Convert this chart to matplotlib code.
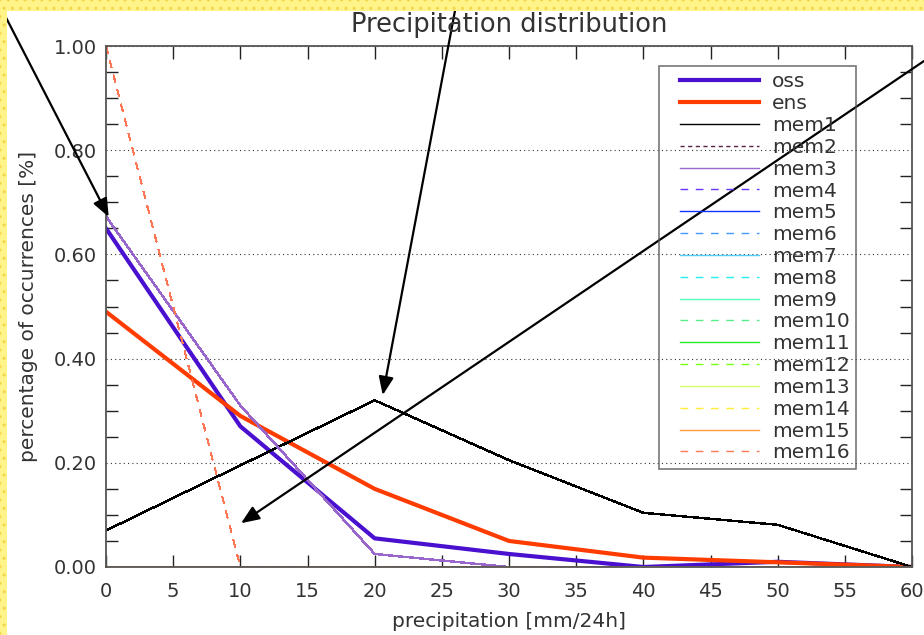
import numpy as np
import matplotlib

matplotlib.use("Agg")
import matplotlib.pyplot as plt
from matplotlib.lines import Line2D
from matplotlib.legend_handler import HandlerLine2D
from matplotlib.patches import Rectangle


# precipitation classes [mm/24h]
PRECIP = [0, 10, 20, 30, 40, 50, 60]

OSS = [0.65, 0.27, 0.055, 0.025, 0.0, 0.01, 0.0]
ENS = [0.49, 0.29, 0.15, 0.05, 0.018, 0.009, 0.0]

# ensemble members (members not listed stay at zero)
MEM1 = [0.07, 0.195, 0.32, 0.205, 0.104, 0.081, 0.0]
MEM3 = [0.673, 0.31, 0.025, 0.0, 0.0, 0.0, 0.0]
MEM16 = [1.0, 0.0, 0.0, 0.0, 0.0, 0.0, 0.0]
ZERO = [0.0] * 7

MEMBER_NAMES = [f"mem{i}" for i in range(1, 17)]
MEMBER_VALUES = [MEM1, ZERO, MEM3] + [ZERO] * 12 + [MEM16]
MEMBER_COLORS = [
    "black", "#552244", "#9966CC", "#6633FF", "#1133FF", "#4499FF",
    "#55CCFF", "#22EEEE", "#55FFBB", "#55EE88", "#22EE22", "#77FF11",
    "#D4FF66", "#FFEE33", "#FF9933", "#FF7755",
]

X_TICKS = list(range(0, 61, 5))
Y_TICKS = [0.0, 0.2, 0.4, 0.6, 0.8, 1.0]

TEXT = "#333333"
SPINE = "#555555"

plt.rcParams["font.family"] = ["DejaVu Sans"]
plt.rcParams["lines.scale_dashes"] = False

W, H = 924, 635
fig = plt.figure(figsize=(W / 100, H / 100), dpi=100)

# yellow highlight strips (top and left) of the screenshot
for (x0, y0, w, h) in [(0, H - 11, W, 11), (0, 0, 7, H)]:
    fig.patches.append(Rectangle((x0 / W, y0 / H), w / W, h / H, transform=fig.transFigure,
                                 facecolor="#FFF38A", edgecolor="#F0D84A", hatch="..",
                                 linewidth=0, zorder=0))

ax = fig.add_axes([106 / W, (H - 567) / H, 806 / W, 521 / H])
ax.set_facecolor("none")

ax.plot(PRECIP, OSS, color="#4A10D0", linewidth=3.0, label="oss")
ax.plot(PRECIP, ENS, color="#FF3C00", linewidth=3.0, label="ens")
for i, (name, vals, col) in enumerate(zip(MEMBER_NAMES, MEMBER_VALUES, MEMBER_COLORS)):
    if i == 1:
        dashes = (3.0, 2.5)
    elif i % 2 == 1:
        dashes = (5.5, 5.5)
    else:
        dashes = None
    line, = ax.plot(PRECIP, vals, color=col, linewidth=1.0, label=name, antialiased=False)
    if dashes:
        line.set_dashes(dashes)

ax.set_xlim(0, 60)
ax.set_ylim(0, 1)
ax.set_xticks(X_TICKS)
ax.set_xticklabels([str(t) for t in X_TICKS])
ax.set_yticks(Y_TICKS)
ax.set_yticklabels([f"{t:.2f}" for t in Y_TICKS])
ax.set_yticks(np.arange(0.05, 1.0, 0.05), minor=True)

ax.tick_params(axis="x", which="major", direction="in", length=9, width=1.0, color="#222222",
               top=True, bottom=True, labelsize=14, labelcolor=TEXT, pad=10.5)
ax.tick_params(axis="y", which="major", length=0, labelsize=14, labelcolor=TEXT, pad=6.5)
ax.tick_params(axis="y", which="minor", direction="in", length=8.6, width=1.0, color="#222222",
               left=True, right=True)

ax.grid(True, axis="y", which="major", color="#333333", linewidth=0.8, linestyle=(0, (0.8, 2.3)))

for sp in ax.spines.values():
    sp.set_color(SPINE)
    sp.set_linewidth(1.3)

ax.set_title("Precipitation distribution", fontsize=18.5, color=TEXT, pad=10)
ax.set_xlabel("precipitation [mm/24h]", fontsize=14.5, color=TEXT, labelpad=8)
ax.set_ylabel("percentage of occurrences [%]", fontsize=14.5, color=TEXT)
ax.yaxis.set_label_coords(-(106 - 38) / 806, 0.5)

leg = ax.legend(loc="upper left", bbox_to_anchor=(0.686, 0.962), borderaxespad=0,
                fontsize=14.5, labelspacing=0.14, handlelength=4.62, handletextpad=0.65,
                borderpad=0.33, frameon=True, fancybox=False, facecolor="none",
                edgecolor=SPINE, handler_map={Line2D: HandlerLine2D(xpad=0.7)})
leg.get_frame().set_linewidth(1.2)
for t in leg.get_texts():
    t.set_color(TEXT)

# annotation arrows pointing at notable points
arrow_style = dict(arrowstyle="-|>,head_length=1.1,head_width=0.45", color="black",
                   linewidth=1.6, shrinkA=0, shrinkB=0)
ax.annotate("", xy=(0.2, 0.672), xycoords="data", xytext=(-2 / W, 1 - 2 / H),
            textcoords="figure fraction", arrowprops=arrow_style, annotation_clip=False)
ax.annotate("", xy=(20.6, 0.33), xycoords="data", xytext=(457 / W, 1.0),
            textcoords="figure fraction", arrowprops=arrow_style, annotation_clip=False)
ax.annotate("", xy=(10.05, 0.084), xycoords="data", xytext=(1.0, 1 - 61 / H),
            textcoords="figure fraction", arrowprops=arrow_style, annotation_clip=False)

fig.savefig("out.png", dpi=100)
